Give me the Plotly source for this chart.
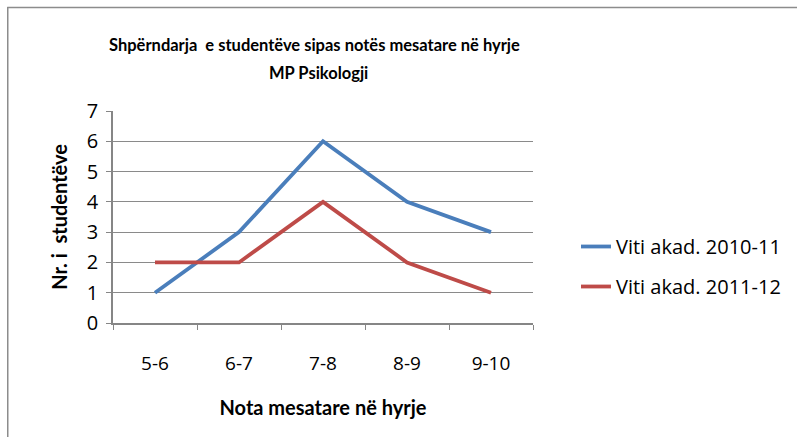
import plotly.graph_objects as go

categories = ["5-6", "6-7", "7-8", "8-9", "9-10"]
series_2010 = [1, 3, 6, 4, 3]
series_2011 = [2, 2, 4, 2, 1]
name_2010 = "Viti akad. 2010-11"
name_2011 = "Viti akad. 2011-12"
y_ticks = [0, 1, 2, 3, 4, 5, 6, 7]
title_line1 = "Shpërndarja  e studentëve sipas notës mesatare në hyrje"
title_line2 = "MP Psikologji"

W, H = 797, 437
L, R, T, B = 113, 534, 111, 323
pw, ph = R - L, B - T

fig = go.Figure()
fig.add_trace(go.Scatter(x=categories, y=series_2010, mode="lines", name=name_2010,
                         line=dict(color="#4a7ebb", width=3.8), legendgroup="a"))
fig.add_trace(go.Scatter(x=categories, y=series_2011, mode="lines", name=name_2011,
                         line=dict(color="#be4b48", width=3.8), legendgroup="b"))

def px_x(p):
    return (p - L) / pw

def px_y(p):
    return (B - p) / ph

frame = "#8c8c8c"
fig.add_shape(type="line", xref="paper", yref="paper", x0=px_x(7), x1=px_x(800),
              y0=px_y(7.5), y1=px_y(7.5), line=dict(color=frame, width=1.5))
fig.add_shape(type="line", xref="paper", yref="paper", x0=px_x(7.5), x1=px_x(7.5),
              y0=px_y(7), y1=px_y(440), line=dict(color=frame, width=1.5))

tfont = dict(family="Lato", size=16.5, color="black")
fig.add_annotation(text="<b>" + title_line1 + "</b>", xref="paper", yref="paper",
                   x=px_x(315), y=px_y(45), xanchor="center", yanchor="middle",
                   showarrow=False, font=tfont)
fig.add_annotation(text="<b>" + title_line2 + "</b>", xref="paper", yref="paper",
                   x=px_x(319), y=px_y(73), xanchor="center", yanchor="middle",
                   showarrow=False, font=tfont)

fig.update_layout(
    width=W, height=H,
    margin=dict(l=L, r=W - R, t=T, b=H - B),
    paper_bgcolor="white", plot_bgcolor="white",
    showlegend=True,
    legend=dict(x=px_x(576), y=px_y(227), xanchor="left", yanchor="top",
                font=dict(family="Open Sans", size=20, color="black"),
                tracegroupgap=11, bgcolor="rgba(0,0,0,0)"),
    font=dict(family="Open Sans", color="black"),
)

fig.update_xaxes(
    type="category", range=[-0.5, 4.5], tickson="boundaries",
    ticks="outside", ticklen=5, tickcolor="#868686", tickwidth=1,
    showline=True, linecolor="#868686", linewidth=1.5,
    showgrid=False, ticklabelstandoff=22,
    tickfont=dict(family="Open Sans", size=19, color="black"),
    title=dict(text="<b>Nota mesatare në hyrje</b>", standoff=26,
               font=dict(family="Lato", size=20, color="black")),
)
fig.update_yaxes(
    range=[0, 7], tickvals=y_ticks, ticks="outside", ticklen=5,
    tickcolor="#868686", tickwidth=1,
    showline=True, linecolor="#868686", linewidth=1.5,
    showgrid=True, gridcolor="#8a8a8a", gridwidth=1, zeroline=False,
    tickfont=dict(family="Open Sans", size=20, color="black"),
    ticklabelstandoff=4,
    title=dict(text="<b>Nr. i  studentëve</b>", standoff=14,
               font=dict(family="Lato", size=20, color="black")),
)

fig.write_html("out.html", config={"displayModeBar": False},
               post_script="document.body.style.margin='0';")
